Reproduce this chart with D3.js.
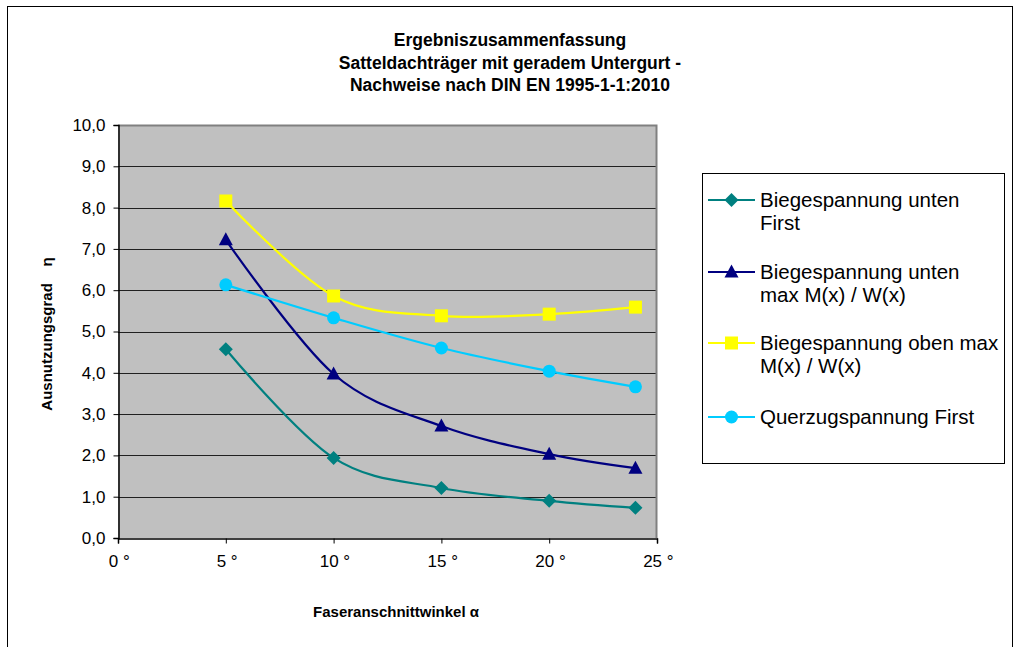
<!DOCTYPE html>
<html>
<head>
<meta charset="utf-8">
<script src="https://cdn.jsdelivr.net/npm/d3@7"></script>
<style>
  html, body { margin: 0; padding: 0; background: #fff; }
  svg { display: block; font-family: "Liberation Sans", Arial, sans-serif; }
</style>
</head>
<body>
<svg id="chart" width="1018" height="647"></svg>
<script>
// Fibre cut angle (degrees)
const angles = [5, 10, 15, 20, 24];

// Utilisation ratio per verification
const biegeUntenFirst = [4.57, 1.94, 1.21, 0.90, 0.73];
const biegeUntenMax   = [7.22, 3.97, 2.71, 2.03, 1.69];
const biegeObenMax    = [8.16, 5.86, 5.38, 5.42, 5.59];
const querzugFirst    = [6.13, 5.33, 4.60, 4.04, 3.66];

const xTicks = [0, 5, 10, 15, 20, 25];
const yTicks = [0, 1, 2, 3, 4, 5, 6, 7, 8, 9, 10];

const titleLines = [
  "Ergebniszusammenfassung",
  "Satteldachträger mit geradem Untergurt -",
  "Nachweise nach DIN EN 1995-1-1:2010"
];

const series = [
  { name: ["Biegespannung unten", "First"], values: biegeUntenFirst, color: "#008080", marker: "diamond" },
  { name: ["Biegespannung unten", "max M(x) / W(x)"], values: biegeUntenMax, color: "#000080", marker: "triangle" },
  { name: ["Biegespannung oben max", "M(x) / W(x)"], values: biegeObenMax, color: "#FFFF00", marker: "square" },
  { name: ["Querzugspannung First"], values: querzugFirst, color: "#00CCFF", marker: "circle" }
];

const svg = d3.select("#chart");

// Outer chart frame
svg.append("rect")
  .attr("x", 7.5).attr("y", 6.5).attr("width", 1005).attr("height", 660)
  .attr("fill", "#fff").attr("stroke", "#000").attr("stroke-width", 1);

// Title
svg.append("g").selectAll("text").data(titleLines).join("text")
  .attr("x", 510).attr("y", (d, i) => 46 + i * 22.5)
  .attr("text-anchor", "middle")
  .attr("font-size", 17.5).attr("font-weight", "bold")
  .text(d => d);

const plot = { left: 118, right: 657, top: 125, bottom: 538 };

const x = d3.scaleLinear().domain([0, 25]).range([plot.left, plot.right]);
const y = d3.scaleLinear().domain([0, 10]).range([plot.bottom, plot.top]);

// Plot background
svg.append("rect")
  .attr("x", plot.left).attr("y", plot.top)
  .attr("width", plot.right - plot.left).attr("height", plot.bottom - plot.top)
  .attr("fill", "#C0C0C0");

// Horizontal gridlines
svg.append("g").selectAll("line").data(yTicks.filter(v => v > 0 && v < 10)).join("line")
  .attr("x1", plot.left).attr("x2", plot.right)
  .attr("y1", d => Math.round(y(d)) + 0.5).attr("y2", d => Math.round(y(d)) + 0.5)
  .attr("stroke", "#202020").attr("stroke-width", 1);

// Top and right plot border
svg.append("path")
  .attr("d", `M${plot.left},${plot.top + 0.5}H${plot.right - 0.5}V${plot.bottom}`)
  .attr("fill", "none").attr("stroke", "#808080").attr("stroke-width", 2);

// Y axis
const yAxis = d3.axisLeft(y).tickValues(yTicks).tickSize(5).tickPadding(8)
  .tickFormat(d => d3.format(".1f")(d).replace(".", ","));
const gy = svg.append("g").attr("transform", `translate(${plot.left + 0.5},0)`).call(yAxis);
gy.select(".domain").attr("stroke", "#000").attr("stroke-width", 1.5);
gy.selectAll(".tick line").attr("stroke", "#000");
gy.selectAll(".tick text").attr("font-size", 17).attr("fill", "#000")
  .attr("font-family", "'Liberation Sans', Arial, sans-serif");

// X axis
const xAxis = d3.axisBottom(x).tickValues(xTicks).tickSize(5).tickPadding(11)
  .tickFormat(d => d + " °");
const gx = svg.append("g").attr("transform", `translate(0,${plot.bottom + 0.5})`).call(xAxis);
gx.select(".domain").attr("stroke", "#000").attr("stroke-width", 1.5);
gx.selectAll(".tick line").attr("stroke", "#000");
gx.selectAll(".tick text").attr("font-size", 17).attr("fill", "#000")
  .attr("font-family", "'Liberation Sans', Arial, sans-serif")
  .attr("dx", "0.05em");

// Axis titles
svg.append("text")
  .attr("transform", "translate(52,334) rotate(-90)")
  .attr("text-anchor", "middle").attr("font-size", 15).attr("font-weight", "bold")
  .attr("xml:space", "preserve")
  .text("Ausnutzungsgrad    η");

svg.append("text")
  .attr("x", 396).attr("y", 617)
  .attr("text-anchor", "middle").attr("font-size", 15).attr("font-weight", "bold")
  .text("Faseranschnittwinkel α");

// Marker shapes
function drawMarker(g, type, cx, cy, color) {
  if (type === "diamond") {
    g.append("path").attr("d", `M${cx},${cy - 7}L${cx + 7},${cy}L${cx},${cy + 7}L${cx - 7},${cy}Z`)
      .attr("fill", color);
  } else if (type === "triangle") {
    g.append("path").attr("d", `M${cx},${cy - 7.5}L${cx + 7},${cy + 5.5}L${cx - 7},${cy + 5.5}Z`)
      .attr("fill", color);
  } else if (type === "square") {
    g.append("rect").attr("x", cx - 6.5).attr("y", cy - 6.5).attr("width", 13).attr("height", 13)
      .attr("fill", color);
  } else {
    g.append("circle").attr("cx", cx).attr("cy", cy).attr("r", 6.5).attr("fill", color);
  }
}

const line = d3.line()
  .x((d, i) => x(angles[i]))
  .y(d => y(d))
  .curve(d3.curveCardinal.tension(0));

const gs = svg.append("g");
series.forEach(s => {
  gs.append("path").attr("d", line(s.values))
    .attr("fill", "none").attr("stroke", s.color).attr("stroke-width", 2.2);
});
series.forEach(s => {
  const g = gs.append("g");
  s.values.forEach((v, i) => drawMarker(g, s.marker, x(angles[i]), y(v), s.color));
});

// Legend
const legend = svg.append("g");
legend.append("rect")
  .attr("x", 702.5).attr("y", 173.5).attr("width", 302).attr("height", 290)
  .attr("fill", "#fff").attr("stroke", "#000").attr("stroke-width", 1);

const legendY = [200, 272, 343, 417];
series.forEach((s, i) => {
  const ly = legendY[i];
  legend.append("line")
    .attr("x1", 708).attr("x2", 755).attr("y1", ly).attr("y2", ly)
    .attr("stroke", s.color).attr("stroke-width", 2.2);
  drawMarker(legend, s.marker, 731.5, ly, s.color);
  s.name.forEach((t, j) => {
    legend.append("text")
      .attr("x", 760).attr("y", ly + j * 22.5 + 7)
      .attr("font-size", 20.5)
      .text(t);
  });
});
</script>
</body>
</html>
